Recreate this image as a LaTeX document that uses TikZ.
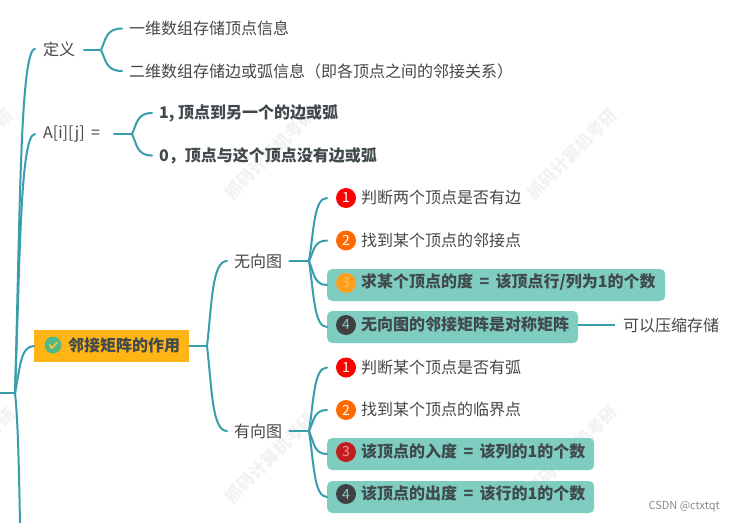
\documentclass[tikz,border=0pt]{standalone}
\usepackage{fontspec}
\setmainfont{Noto Sans CJK SC}
\usetikzlibrary{calc}
\definecolor{linkc}{HTML}{389EAC}
\definecolor{boxc}{HTML}{7FCDC1}
\definecolor{inkc}{HTML}{474747}
\definecolor{boldc}{HTML}{404A4C}
\newcommand{\conn}[2]{\draw[link] let \p1=(#1), \p2=(#2) in (\p1) .. controls (\x1+5pt,{0.5*\y1+0.5*\y2}) and (\x1+5pt,\y2) .. (\p2);}
\tikzset{
  link/.style={draw=linkc,line width=2pt,line cap=round},
  plain/.style={font=\fontsize{16}{16}\selectfont,text=inkc,anchor=west,inner ysep=0pt,inner xsep=7pt},
  strong/.style={plain,font=\fontsize{16}{16}\selectfont\bfseries,text=boldc},
  tealbox/.style={fill=boxc,rounded corners=5pt,minimum height=32pt,anchor=west,inner sep=0pt},
  badge/.style={circle,minimum size=20pt,inner sep=0pt,font=\fontsize{14}{14}\selectfont,text=white},
  wmark/.style={rotate=45,text=black!5,font=\fontsize{17}{17}\selectfont\bfseries}
}
\begin{document}
\begin{tikzpicture}[x=1pt,y=-1pt]
\useasboundingbox (0,0) rectangle (735,522);
\clip (0,0) rectangle (735,522);
\fill[white] (0,0) rectangle (735,522);
% watermarks
\foreach \wx/\wy [count=\wi] in {-32/154,270/154,572/154,-30/453,270/458,572/451}{
  \node[wmark] (w\wi) at (\wx,\wy) {抓码计算机考研};
}
% nodes
\coordinate (rootStart) at (0,393);
\coordinate (rootFork) at (15,393);
\coordinate (rootEnd) at (20,524);
\node[plain,inner xsep=8pt] (def) at (35,49) {定义};
\node[plain] (d1) at (122,28.5) {一维数组存储顶点信息};
\node[plain] (d2) at (122,71) {二维数组存储边或弧信息（即各顶点之间的邻接关系）};
\node[plain,inner xsep=8pt] (aij) at (35,134) {A[i][j] \,=};
\node[strong] (a1) at (152,113) {1, 顶点到另一个的边或弧};
\node[strong] (a2) at (152,155.5) {0，顶点与这个顶点没有边或弧};
\node[anchor=west,minimum width=155pt,minimum height=32pt,inner sep=0pt,fill={rgb,255:red,255;green,181;blue,20}] (use) at (34,346) {};
\node[badge,minimum size=17pt,fill={rgb,255:red,82;green,184;blue,136}] (chk) at (53,345) {};
\draw[line width=1.6pt,draw={rgb,255:red,255;green,200;blue,50},line cap=round] ($(chk)+(-3.5,0)$) -- ($(chk)+(-1,3)$) -- ($(chk)+(4,-2.5)$);
\node[strong,inner xsep=0pt] (uset) at (68,345) {邻接矩阵的作用};
\node[plain] (un) at (227,261) {无向图};
\node[plain] (dir) at (227,431) {有向图};
% boxes
\node[tealbox,minimum width=338pt] (u3box) at (327,285) {};
\node[tealbox,minimum width=251pt] (u4box) at (327,327) {};
\node[tealbox,minimum width=267pt] (v3box) at (327,454) {};
\node[tealbox,minimum width=267pt] (v4box) at (327,497) {};
\coordinate (u1c) at (327,198);
\coordinate (u2c) at (327,240.5);
\coordinate (v1c) at (327,367.5);
\coordinate (v2c) at (327,410);
\node[badge,fill={rgb,255:red,255;green,0;blue,0}] (b1) at (346,198) {1};
\node[badge,fill={rgb,255:red,255;green,106;blue,0}] (b2) at (346,240.5) {2};
\node[badge,fill={rgb,255:red,255;green,159;blue,28},text={rgb,255:red,255;green,190;blue,90}] (b3) at (346,283) {3};
\node[badge,fill=black!75,text=boxc] (b4) at (346,325) {4};
\node[badge,fill={rgb,255:red,255;green,0;blue,0}] (c1) at (346,367.5) {1};
\node[badge,fill={rgb,255:red,255;green,106;blue,0}] (c2) at (346,410) {2};
\node[badge,fill={rgb,255:red,194;green,30;blue,30},text={rgb,255:red,240;green,150;blue,150}] (c3) at (346,452) {3};
\node[badge,fill=black!75,text=boxc] (c4) at (346,494) {4};
\node[plain,inner xsep=0pt] (u1) at (361,197.5) {判断两个顶点是否有边};
\node[plain,inner xsep=0pt] (u2) at (361,240) {找到某个顶点的邻接点};
\node[strong,inner xsep=0pt] (u3) at (361,282.5) {求某个顶点的度 \,=\, 该顶点行/列为1的个数};
\node[strong,inner xsep=0pt] (u4) at (361,324.5) {无向图的邻接矩阵是对称矩阵};
\node[plain,inner xsep=8pt] (comp) at (615,325) {可以压缩存储};
\node[plain,inner xsep=0pt] (v1) at (361,367) {判断某个顶点是否有弧};
\node[plain,inner xsep=0pt] (v2) at (361,409.5) {找到某个顶点的临界点};
\node[strong,inner xsep=0pt] (v3) at (361,451.5) {该顶点的入度 \,=\, 该列的1的个数};
\node[strong,inner xsep=0pt] (v4) at (361,493.5) {该顶点的出度 \,=\, 该行的1的个数};
\node[font=\fontsize{11}{11}\selectfont,text=black!45,anchor=east,inner sep=0pt] (csdn) at (720,507) {CSDN @ctxtqt};
% forks
\coordinate (defStart) at (84,50);
\coordinate (defFork) at (101,50);
\coordinate (aStart) at (114,134);
\coordinate (aFork) at (132,134);
\coordinate (useFork) at (207,346);
\coordinate (unFork) at (309,261);
\coordinate (dirFork) at (309,431);
% connectors
\draw[link] (rootStart) -- (rootFork);
\conn{rootFork}{def.west}
\conn{rootFork}{aij.west}
\conn{rootFork}{use.west}
\draw[link] (rootFork) .. controls (18,420) and (19,470) .. (rootEnd);
\draw[link] (defStart) -- (defFork);
\conn{defFork}{d1.west}
\conn{defFork}{d2.west}
\draw[link] (aStart) -- (aFork);
\conn{aFork}{a1.west}
\conn{aFork}{a2.west}
\draw[link] (use.east) -- (useFork);
\conn{useFork}{un.west}
\conn{useFork}{dir.west}
\draw[link] (un.east) -- (unFork);
\conn{unFork}{u1c}
\conn{unFork}{u2c}
\conn{unFork}{u3box.west}
\conn{unFork}{u4box.west}
\draw[link] (dir.east) -- (dirFork);
\conn{dirFork}{v1c}
\conn{dirFork}{v2c}
\conn{dirFork}{v3box.west}
\conn{dirFork}{v4box.west}
\draw[link,line cap=butt] (u4box.east |- comp.west) -- (comp.west);
\end{tikzpicture}
\end{document}
